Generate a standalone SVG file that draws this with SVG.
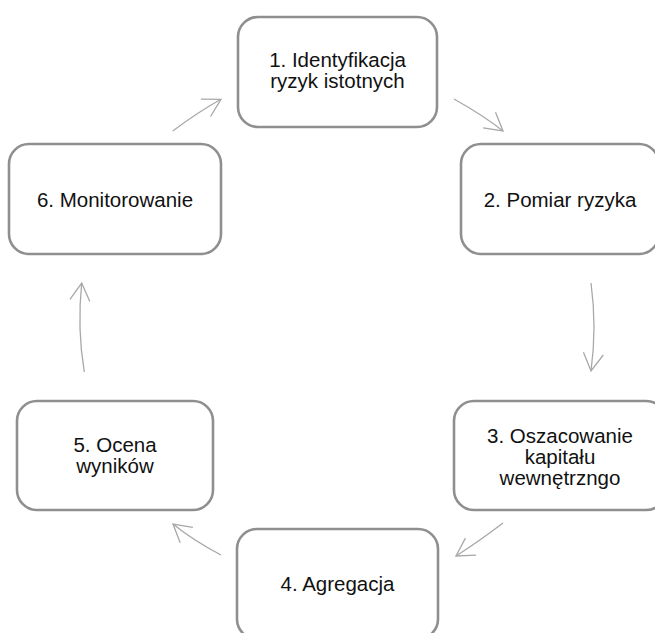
<svg xmlns="http://www.w3.org/2000/svg" width="655" height="633" viewBox="0 0 655 633">
<style>
.box{fill:#ffffff;stroke:#8f8f8f;stroke-width:2.6}
.lbl{font-family:"Liberation Sans",Arial,sans-serif;font-size:20.5px;fill:#111111;text-anchor:middle}
.conn{fill:none;stroke:#a8a8a8;stroke-width:1.3}
</style>
<defs>
<marker id="arr" markerUnits="userSpaceOnUse" markerWidth="30" markerHeight="30" viewBox="-25 -15 30 30" refX="0" refY="0" orient="auto">
<path d="M-17.5,-10 L0,0 L-17.5,10" fill="none" stroke="#a8a8a8" stroke-width="1.3"/>
</marker>
</defs>
<rect width="655" height="633" fill="#ffffff"/>
<g id="connectors">
<path class="conn" d="M454,99 Q483.5,115.5 503,131" marker-end="url(#arr)"/>
<path class="conn" d="M591,283 Q597,327 591,371" marker-end="url(#arr)"/>
<path class="conn" d="M503,523 Q478,542 456,556" marker-end="url(#arr)"/>
<path class="conn" d="M221,555 Q192.5,540 173,524" marker-end="url(#arr)"/>
<path class="conn" d="M84.3,372 Q77,328 81.7,283" marker-end="url(#arr)"/>
<path class="conn" d="M172.7,131 Q199,111.5 221,99.3" marker-end="url(#arr)"/>
</g>
<g id="node1">
<rect class="box" x="238" y="17" width="199" height="110" rx="20"/>
<text class="lbl" x="337.5" y="66.5">1. Identyfikacja</text>
<text class="lbl" x="337.5" y="87.5">ryzyk istotnych</text>
</g>
<g id="node2">
<rect class="box" x="461" y="144" width="198" height="110" rx="20"/>
<text class="lbl" x="560" y="206.5">2. Pomiar ryzyka</text>
</g>
<g id="node3">
<rect class="box" x="454" y="401" width="212" height="109" rx="20"/>
<text class="lbl" x="560" y="443">3. Oszacowanie</text>
<text class="lbl" x="560" y="464">kapitału</text>
<text class="lbl" x="560" y="485">wewnętrzngo</text>
</g>
<g id="node4">
<rect class="box" x="237" y="529" width="201" height="110" rx="20"/>
<text class="lbl" x="337.5" y="591">4. Agregacja</text>
</g>
<g id="node5">
<rect class="box" x="17" y="401" width="196" height="109" rx="20"/>
<text class="lbl" x="115" y="452">5. Ocena</text>
<text class="lbl" x="115" y="473">wyników</text>
</g>
<g id="node6">
<rect class="box" x="9" y="144" width="212" height="110" rx="20"/>
<text class="lbl" x="115" y="206.5">6. Monitorowanie</text>
</g>
</svg>
